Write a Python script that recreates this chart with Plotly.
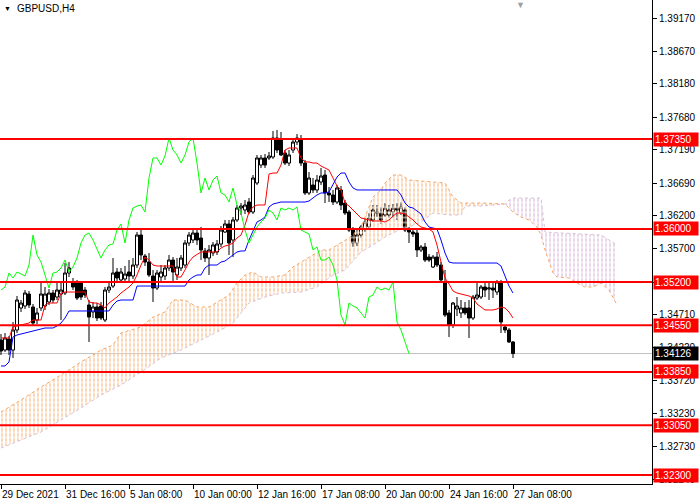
import plotly.graph_objects as go

# ---------------- data (GBPUSD H4, bar index 0 = 29 Dec 2021 00:00) ----------------
open_ = [
1.34330, 1.34179, 1.34345, 1.34179, 1.34480, 1.34811, 1.34841, 1.35021, 1.34826, 1.34630,
1.34811, 1.34841, 1.34901, 1.35036, 1.34976, 1.35021, 1.35036, 1.35337, 1.35187, 1.35187,
1.35187, 1.35081, 1.34856, 1.34751, 1.34826, 1.34841, 1.34630, 1.35081, 1.35141, 1.35352,
1.35232, 1.35247, 1.35352, 1.35292, 1.35457, 1.35908, 1.35592, 1.35502, 1.35292, 1.35111,
1.35277, 1.35292, 1.35412, 1.35532, 1.35307, 1.35412, 1.35457, 1.35788, 1.35833, 1.35938,
1.35863, 1.35668, 1.35562, 1.35638, 1.35653, 1.35773, 1.35953, 1.36074, 1.35833, 1.36134,
1.36314, 1.36284, 1.36404, 1.36254, 1.36690, 1.36960, 1.37066, 1.37066, 1.37081, 1.37366,
1.37336, 1.37141, 1.36990, 1.37186, 1.37306, 1.37336, 1.36990, 1.36540, 1.36660, 1.36585,
1.36705, 1.36810, 1.36540, 1.36510, 1.36404, 1.36585, 1.36389, 1.36254, 1.35983, 1.35788,
1.35908, 1.35998, 1.36028, 1.36134, 1.36254, 1.36239, 1.36209, 1.36209, 1.36254, 1.36314,
1.36239, 1.36284, 1.35983, 1.35953, 1.35938, 1.35683, 1.35728, 1.35577, 1.35427, 1.35577,
1.35457, 1.35202, 1.34736, 1.34555, 1.34796, 1.34736, 1.34811, 1.34811, 1.34660, 1.34961,
1.34976, 1.35126, 1.35096, 1.35111, 1.35051, 1.35202, 1.34525, 1.34480, 1.34300]
high = [
1.34420, 1.34435, 1.34390, 1.34600, 1.34991, 1.34931, 1.35081, 1.35066, 1.34871, 1.34811,
1.35187, 1.35126, 1.35096, 1.35081, 1.35187, 1.35187, 1.35487, 1.35502, 1.35262, 1.35232,
1.35217, 1.35126, 1.34931, 1.34901, 1.34886, 1.34901, 1.35126, 1.35187, 1.35562, 1.35412,
1.35412, 1.35442, 1.35532, 1.35562, 1.35953, 1.35983, 1.35622, 1.35637, 1.35382, 1.35382,
1.35457, 1.35457, 1.35608, 1.35577, 1.35562, 1.35608, 1.35833, 1.35953, 1.36013, 1.36013,
1.36028, 1.35713, 1.35758, 1.35803, 1.35833, 1.36043, 1.36134, 1.36134, 1.36179, 1.36359,
1.36389, 1.36434, 1.36464, 1.36810, 1.37111, 1.37111, 1.37126, 1.37156, 1.37472, 1.37487,
1.37457, 1.37186, 1.37186, 1.37336, 1.37427, 1.37412, 1.37036, 1.36855, 1.36765, 1.36810,
1.36915, 1.36885, 1.36630, 1.36585, 1.36660, 1.36645, 1.36434, 1.36284, 1.36028, 1.36013,
1.36058, 1.36164, 1.36239, 1.36359, 1.36359, 1.36329, 1.36389, 1.36359, 1.36374, 1.36389,
1.36404, 1.36329, 1.36028, 1.35998, 1.35983, 1.35758, 1.35788, 1.35622, 1.35608, 1.35653,
1.35502, 1.35382, 1.34781, 1.34901, 1.34976, 1.34931, 1.34901, 1.34931, 1.35006, 1.35187,
1.35157, 1.35187, 1.35187, 1.35187, 1.35232, 1.35232, 1.34555, 1.34510, 1.34315]
low = [
1.34104, 1.34149, 1.34104, 1.34059, 1.34435, 1.34751, 1.34796, 1.34811, 1.34540, 1.34570,
1.34766, 1.34781, 1.34856, 1.34886, 1.34931, 1.34630, 1.35006, 1.35277, 1.35081, 1.34931,
1.34931, 1.34961, 1.34300, 1.34660, 1.34615, 1.34630, 1.34600, 1.35036, 1.35111, 1.35217,
1.35187, 1.35217, 1.35217, 1.35247, 1.35412, 1.35532, 1.35442, 1.35277, 1.34901, 1.35081,
1.35217, 1.35232, 1.35367, 1.35217, 1.35232, 1.35367, 1.35412, 1.35743, 1.35788, 1.35758,
1.35532, 1.35502, 1.35307, 1.35592, 1.35608, 1.35728, 1.35938, 1.35608, 1.35577, 1.36104,
1.36209, 1.36224, 1.36224, 1.36224, 1.36660, 1.36915, 1.36915, 1.37036, 1.37051, 1.37141,
1.37096, 1.36960, 1.36945, 1.37141, 1.37261, 1.36945, 1.36510, 1.36510, 1.36540, 1.36540,
1.36660, 1.36389, 1.36404, 1.36359, 1.36374, 1.36284, 1.36209, 1.35953, 1.35728, 1.35743,
1.35863, 1.35953, 1.35998, 1.36104, 1.36179, 1.36074, 1.36179, 1.36164, 1.36164, 1.36134,
1.36209, 1.35953, 1.35788, 1.35878, 1.35577, 1.35653, 1.35502, 1.35502, 1.35412, 1.35427,
1.35202, 1.34675, 1.34375, 1.34510, 1.34690, 1.34660, 1.34705, 1.34360, 1.34630, 1.34931,
1.34946, 1.34976, 1.34931, 1.34961, 1.35006, 1.34435, 1.34435, 1.34285, 1.34059]
close = [
1.34164, 1.34360, 1.34179, 1.34480, 1.34931, 1.34886, 1.35036, 1.34856, 1.34585, 1.34736,
1.35021, 1.35021, 1.35036, 1.34931, 1.35081, 1.35081, 1.35337, 1.35412, 1.35126, 1.34961,
1.34976, 1.35006, 1.34675, 1.34826, 1.34660, 1.34660, 1.35081, 1.35126, 1.35337, 1.35262,
1.35352, 1.35322, 1.35292, 1.35457, 1.35908, 1.35608, 1.35502, 1.35307, 1.35111, 1.35337,
1.35352, 1.35412, 1.35532, 1.35352, 1.35427, 1.35562, 1.35788, 1.35908, 1.35938, 1.35833,
1.35683, 1.35562, 1.35683, 1.35758, 1.35773, 1.35983, 1.36074, 1.35788, 1.36134, 1.36314,
1.36344, 1.36359, 1.36254, 1.36765, 1.37066, 1.37066, 1.36960, 1.37096, 1.37366, 1.37186,
1.37111, 1.36990, 1.37111, 1.37306, 1.37366, 1.36990, 1.36540, 1.36765, 1.36585, 1.36735,
1.36795, 1.36540, 1.36510, 1.36404, 1.36615, 1.36359, 1.36239, 1.35983, 1.35788, 1.35908,
1.36028, 1.36104, 1.36164, 1.36284, 1.36239, 1.36134, 1.36314, 1.36284, 1.36314, 1.36284,
1.36329, 1.35983, 1.35953, 1.35923, 1.35683, 1.35728, 1.35532, 1.35532, 1.35577, 1.35457,
1.35232, 1.34705, 1.34555, 1.34886, 1.34841, 1.34811, 1.34736, 1.34660, 1.34976, 1.35006,
1.35126, 1.35081, 1.35111, 1.35081, 1.35202, 1.34600, 1.34480, 1.34300, 1.34126]

tenkan = [
1.34360, 1.34360, 1.34360, 1.34525, 1.34540, 1.34555, 1.34570, 1.34585, 1.34630, 1.34630,
1.34630, 1.34856, 1.34886, 1.34886, 1.34886, 1.35036, 1.35051, 1.35051, 1.35051, 1.35051,
1.35051, 1.35051, 1.34901, 1.34886, 1.34886, 1.34856, 1.34811, 1.34886, 1.34931, 1.34976,
1.35036, 1.35081, 1.35126, 1.35187, 1.35307, 1.35457, 1.35577, 1.35532, 1.35457, 1.35442,
1.35442, 1.35442, 1.35442, 1.35442, 1.35277, 1.35277, 1.35382, 1.35502, 1.35577, 1.35622,
1.35653, 1.35653, 1.35653, 1.35653, 1.35653, 1.35713, 1.35743, 1.35758, 1.35788, 1.35863,
1.35908, 1.36058, 1.36254, 1.36329, 1.36359, 1.36359, 1.36359, 1.36825, 1.36840, 1.36840,
1.36960, 1.37186, 1.37216, 1.37216, 1.37216, 1.37066, 1.37006, 1.37006, 1.36990, 1.36990,
1.36945, 1.36915, 1.36885, 1.36765, 1.36645, 1.36585, 1.36389, 1.36344, 1.36284, 1.36209,
1.36164, 1.36149, 1.36134, 1.36119, 1.36119, 1.36119, 1.36104, 1.36134, 1.36194, 1.36239,
1.36239, 1.36224, 1.36179, 1.36134, 1.36074, 1.36028, 1.36013, 1.35998, 1.35953, 1.35758,
1.35502, 1.35262, 1.35172, 1.35066, 1.35036, 1.35021, 1.35006, 1.34991, 1.34961, 1.34871,
1.34826, 1.34781, 1.34781, 1.34781, 1.34796, 1.34826, 1.34811, 1.34751, 1.34660]
kijun = [
1.33939, 1.33939, 1.33999, 1.34375, 1.34405, 1.34420, 1.34435, 1.34450, 1.34465, 1.34480,
1.34495, 1.34510, 1.34510, 1.34510, 1.34540, 1.34585, 1.34660, 1.34766, 1.34766, 1.34766,
1.34766, 1.34766, 1.34766, 1.34766, 1.34766, 1.34766, 1.34766, 1.34766, 1.34856, 1.34916,
1.34931, 1.34931, 1.34931, 1.34931, 1.35141, 1.35141, 1.35141, 1.35141, 1.35141, 1.35141,
1.35141, 1.35141, 1.35141, 1.35141, 1.35141, 1.35141, 1.35141, 1.35232, 1.35277, 1.35307,
1.35307, 1.35412, 1.35457, 1.35457, 1.35457, 1.35502, 1.35517, 1.35562, 1.35608, 1.35653,
1.35668, 1.35668, 1.35833, 1.35983, 1.36104, 1.36134, 1.36179, 1.36329, 1.36374, 1.36389,
1.36404, 1.36404, 1.36404, 1.36404, 1.36404, 1.36404, 1.36404, 1.36419, 1.36464, 1.36510,
1.36540, 1.36540, 1.36555, 1.36660, 1.36780, 1.36840, 1.36840, 1.36705, 1.36615, 1.36585,
1.36585, 1.36585, 1.36585, 1.36585, 1.36585, 1.36585, 1.36585, 1.36585, 1.36585, 1.36585,
1.36510, 1.36389, 1.36329, 1.36314, 1.36269, 1.36224, 1.36104, 1.36028, 1.36013, 1.35998,
1.35833, 1.35638, 1.35502, 1.35487, 1.35487, 1.35487, 1.35487, 1.35487, 1.35487, 1.35487,
1.35487, 1.35487, 1.35487, 1.35487, 1.35487, 1.35442, 1.35292, 1.35141, 1.35036]

# Senkou spans (plotted 26 bars ahead), read at break points
span_a_idx = [0, 5, 10, 15, 20, 25, 28, 30, 35, 38, 41, 43, 46, 49, 52, 54, 57, 59, 61, 63,
              65, 68, 71, 73, 77, 80, 82, 85, 87, 90, 91, 93, 95, 96, 98, 100, 102, 105, 108,
              111, 113, 115, 120, 124, 126, 128, 130, 132, 134, 135, 136, 138, 139, 142, 144,
              146, 148, 150, 152, 154]
span_a = [1.33247, 1.33428, 1.33623, 1.33804, 1.33999, 1.34179, 1.34255, 1.34435, 1.34525,
          1.34675, 1.34751, 1.34931, 1.34931, 1.34826, 1.34826, 1.34901, 1.35006, 1.35187,
          1.35307, 1.35352, 1.35277, 1.35277, 1.35307, 1.35427, 1.35577, 1.35683, 1.35683,
          1.35788, 1.35863, 1.36028, 1.36179, 1.36480, 1.36585, 1.36690, 1.36810, 1.36810,
          1.36735, 1.36720, 1.36705, 1.36690, 1.36480, 1.36389, 1.36389, 1.36374, 1.36374,
          1.36254, 1.36179, 1.36134, 1.36028, 1.35908, 1.35683, 1.35337, 1.35277, 1.35262,
          1.35187, 1.35126, 1.35126, 1.35187, 1.35081, 1.34856]
span_b_idx = [0, 5, 10, 15, 20, 25, 30, 35, 40, 45, 50, 55, 58, 62, 66, 70, 75, 79, 83, 86,
              90, 93, 96, 100, 102, 105, 108, 112, 115, 116, 120, 124, 126, 127, 128, 135, 136,
              140, 150, 152, 154]
span_b = [1.32706, 1.32826, 1.32947, 1.33127, 1.33308, 1.33503, 1.33653, 1.33849, 1.34059,
          1.34179, 1.34330, 1.34480, 1.34585, 1.34886, 1.34976, 1.35036, 1.35051, 1.35126,
          1.35307, 1.35382, 1.35653, 1.35758, 1.35878, 1.35998, 1.36028, 1.36104, 1.36239,
          1.36209, 1.36209, 1.36344, 1.36344, 1.36359, 1.36374, 1.36434, 1.36464, 1.36464,
          1.35953, 1.35938, 1.35908, 1.35833, 1.35758]
kumo_twist = 126

levels = [1.37350, 1.36000, 1.35200, 1.34550, 1.33850, 1.33050, 1.32300]
last_price = 1.34126
price_ticks = [1.39170, 1.38670, 1.38180, 1.37680, 1.37190, 1.36690, 1.36200, 1.35700,
               1.35200, 1.34710, 1.34220, 1.33720, 1.33230, 1.32730, 1.32240]
time_labels = ["29 Dec 2021", "31 Dec 16:00", "5 Jan 08:00", "10 Jan 00:00", "12 Jan 16:00",
               "17 Jan 08:00", "20 Jan 00:00", "24 Jan 16:00", "27 Jan 08:00"]
time_label_idx = [0, 16, 32, 48, 64, 80, 96, 112, 128]
chikou_shift = 26
symbol_title = "GBPUSD,H4"

# ---------------- figure ----------------
FONT = "Liberation Sans, Arial, sans-serif"
SANDY = "#F4A460"
THISTLE = "#D8BFD8"
bars = list(range(len(close)))

fig = go.Figure()

# kumo (dotted vertical hatch: vertical stripes broken by white horizontal gaps)
def seg(idx, val, lo, hi):
    pts = [(i, v) for i, v in zip(idx, val) if lo <= i <= hi]
    return [p[0] for p in pts], [p[1] for p in pts]

for lo, hi, col in [(0, kumo_twist, "#F39A50"), (kumo_twist, max(span_a_idx), "#C99CC9")]:
    ax, ay = seg(span_a_idx, span_a, lo, hi)
    bx, by = seg(span_b_idx, span_b, lo, hi)
    px, py = ax + bx[::-1], ay + by[::-1]
    fig.add_trace(go.Scatter(
        x=px, y=py, mode="lines", fill="toself",
        line=dict(width=0), fillcolor="rgba(255,255,255,0)",
        fillpattern=dict(shape="|", fgcolor=col, bgcolor="rgba(255,255,255,0)",
                         size=4, solidity=0.4),
        hoverinfo="skip", showlegend=False))
    fig.add_trace(go.Scatter(
        x=px, y=py, mode="lines", fill="toself",
        line=dict(width=0), fillcolor="rgba(255,255,255,0)",
        fillpattern=dict(shape="-", fgcolor="white", bgcolor="rgba(255,255,255,0)",
                         size=5, solidity=0.4),
        hoverinfo="skip", showlegend=False))

fig.add_trace(go.Scatter(x=span_a_idx, y=span_a, mode="lines",
                         line=dict(color=SANDY, width=1, dash="dot"), showlegend=False))
fig.add_trace(go.Scatter(x=span_b_idx, y=span_b, mode="lines",
                         line=dict(color=THISTLE, width=1, dash="dot"), showlegend=False))

# candles
fig.add_trace(go.Candlestick(
    x=bars, open=open_, high=high, low=low, close=close,
    increasing=dict(line=dict(color="black", width=1), fillcolor="white"),
    decreasing=dict(line=dict(color="black", width=1), fillcolor="black"),
    whiskerwidth=0, showlegend=False))

# ichimoku lines
fig.add_trace(go.Scatter(x=bars, y=tenkan, mode="lines",
                         line=dict(color="#FF0000", width=1), showlegend=False))
fig.add_trace(go.Scatter(x=bars, y=kijun, mode="lines",
                         line=dict(color="#0000FF", width=1), showlegend=False))
fig.add_trace(go.Scatter(x=[b - chikou_shift for b in bars[chikou_shift:]],
                         y=close[chikou_shift:], mode="lines",
                         line=dict(color="#00FF00", width=1), showlegend=False))

shapes = []
shapes.append(dict(type="line", xref="paper", x0=0, x1=1, yref="y", y0=last_price,
                   y1=last_price, line=dict(color="#C0C0C0", width=1), layer="below"))
for lv in levels:
    shapes.append(dict(type="line", xref="paper", x0=0, x1=1, yref="y", y0=lv, y1=lv,
                       line=dict(color="#FF0000", width=2), layer="above"))

ann = []
for lv in levels:
    ann.append(dict(xref="paper", x=1, xanchor="left", xshift=1, yref="y", y=lv,
                    yanchor="middle", text=f"{lv:.5f}", showarrow=False,
                    bgcolor="#FF0000", font=dict(family=FONT, size=10, color="white"),
                    width=42, borderpad=1, align="left"))
ann.append(dict(xref="paper", x=1, xanchor="left", xshift=1, yref="y", y=last_price,
                yanchor="middle", text=f"{last_price:.5f}", showarrow=False,
                bgcolor="#000000", font=dict(family=FONT, size=10, color="white"),
                width=42, borderpad=1, align="left"))
for lab, ix in zip(time_labels, time_label_idx):
    ann.append(dict(xref="x", x=ix, xanchor="left", xshift=-1, yref="paper", y=0,
                    yanchor="top", yshift=-3, text=lab, showarrow=False,
                    font=dict(family=FONT, size=10, color="black")))
ann.append(dict(xref="paper", x=15 / 652, xanchor="left", yref="paper", y=1, yanchor="top",
                yshift=-1, text=symbol_title, showarrow=False,
                font=dict(family=FONT, size=10, color="black")))
ann.append(dict(xref="paper", x=2 / 652, xanchor="left", yref="paper", y=1, yanchor="top",
                yshift=-3, text="▼", showarrow=False,
                font=dict(family=FONT, size=7, color="black")))
ann.append(dict(xref="x", x=len(close) + 0.75, xanchor="center", yref="paper", y=1,
                yanchor="top", yshift=2, text="▼", showarrow=False,
                font=dict(family=FONT, size=9, color="#A0A0A0")))

fig.update_layout(
    width=700, height=500, margin=dict(l=0, r=48, t=0, b=16),
    paper_bgcolor="white", plot_bgcolor="white", showlegend=False,
    boxgap=0.25, boxgroupgap=0, hovermode=False,
    shapes=shapes, annotations=ann,
    xaxis=dict(range=[-0.25, 162.75], showgrid=False, zeroline=False, showline=True,
               linecolor="black", linewidth=1, ticks="outside", ticklen=4,
               tickcolor="black", tickvals=time_label_idx, showticklabels=False,
               rangeslider=dict(visible=False), fixedrange=True),
    yaxis=dict(side="right", range=[1.32165, 1.39441], showgrid=False, zeroline=False,
               showline=True, linecolor="black", linewidth=1, ticks="outside", ticklen=4,
               tickcolor="black", tickvals=price_ticks,
               ticktext=[f"{v:.5f}" for v in price_ticks],
               tickfont=dict(family=FONT, size=10, color="black"), fixedrange=True),
)

fig.write_html("out.html", config={"displayModeBar": False, "staticPlot": True},
               post_script="document.body.style.margin='0';document.body.style.overflow='hidden';")
